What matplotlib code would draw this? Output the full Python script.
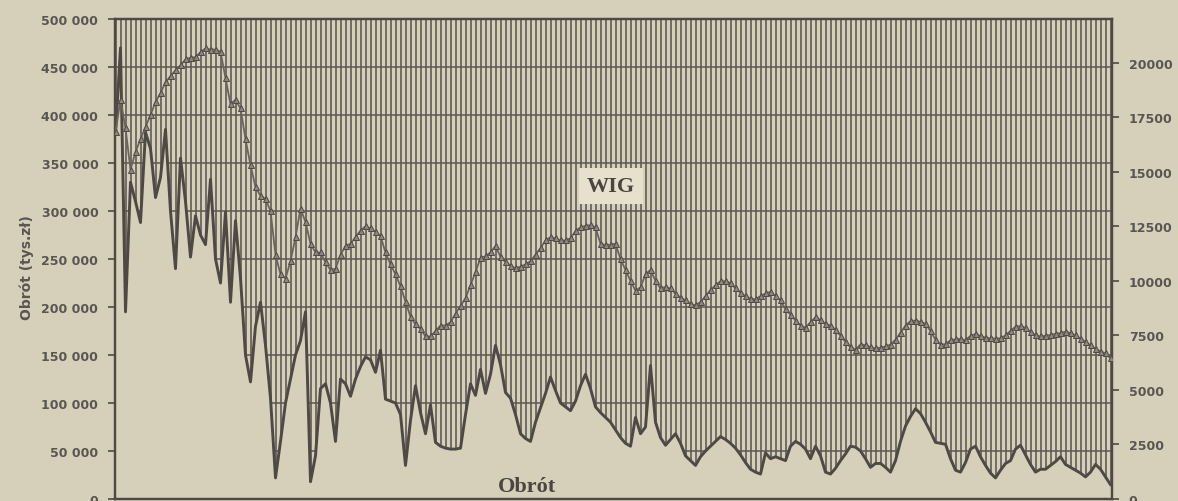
import matplotlib
matplotlib.use("Agg")
import matplotlib.pyplot as plt
import numpy as np

# Turnover (Obrót), thousands of zł, one value per session
obrot_tys = [
    380, 470, 195, 330, 310, 288, 382, 365, 314, 335,
    385, 300, 240, 355, 310, 252, 295, 275, 265, 333,
    250, 225, 299, 205, 290, 230, 150, 122, 180, 205,
    160, 105, 22, 60, 100, 125, 150, 165, 195, 18,
    45, 115, 120, 100, 60, 125, 120, 107, 125, 138,
    148, 145, 132, 155, 104, 102, 100, 88, 35, 82,
    118, 90, 68, 98, 59, 55, 53, 52, 52, 53,
    88, 120, 108, 135, 110, 130, 160, 140, 111, 105,
    88, 68, 63, 60, 80, 95, 110, 127, 113, 100,
    96, 92, 102, 118, 130, 115, 96, 90, 85, 80,
    72, 64, 58, 55, 85, 68, 75, 139, 80, 64,
    56, 62, 68, 58, 45, 40, 35, 44, 50, 55,
    60, 65, 62, 58, 53, 46, 38, 31, 28, 26,
    48, 42, 44, 42, 40, 55, 60, 57, 52, 42,
    55, 45, 28, 26, 32, 40, 47, 55, 54, 50,
    42, 33, 37, 37, 33, 28, 40, 60, 76, 86,
    94, 89, 80, 70, 59, 58, 57, 42, 30, 28,
    38, 52, 55, 44, 35, 27, 22, 30, 37, 40,
    52, 56, 46, 36, 28, 31, 31, 35, 39, 44,
    36, 33, 30, 27, 23, 28, 36, 31, 23, 15,
]

# WIG index, one value per session
wig = [
    16800, 18300, 17000, 15100, 15900, 16500, 17050, 17600, 18200, 18600,
    19100, 19380, 19650, 19880, 20150, 20230, 20250, 20480, 20650, 20600,
    20600, 20500, 19300, 18100, 18300, 17900, 16500, 15300, 14300, 13900,
    13750, 13200, 11200, 10300, 10100, 10900, 12000, 13300, 12700, 11700,
    11300, 11300, 10850, 10500, 10550, 11200, 11600, 11700, 12000, 12300,
    12500, 12400, 12250, 12050, 11300, 10750, 10300, 9750, 9050, 8350,
    8000, 7800, 7450, 7450, 7700, 7950, 7950, 8100, 8500, 8850,
    9200, 9800, 10400, 11050, 11130, 11300, 11600, 11100, 10850, 10700,
    10570, 10650, 10750, 10900, 11200, 11500, 11850, 12000, 11950, 11850,
    11850, 11950, 12280, 12450, 12520, 12550, 12450, 11700, 11640, 11660,
    11700, 11000, 10500, 10000, 9550, 9700, 10300, 10500, 10000, 9650,
    9720, 9650, 9400, 9230, 9100, 8930, 8880, 9030, 9300, 9580,
    9800, 9980, 9980, 9900, 9650, 9450, 9300, 9180, 9150, 9300,
    9420, 9500, 9300, 9100, 8700, 8450, 8180, 7950, 7850, 8100,
    8330, 8200, 8020, 7950, 7750, 7480, 7200, 6950, 6850, 7080,
    7050, 6960, 6900, 6940, 6990, 7080, 7300, 7620, 7950, 8150,
    8180, 8120, 8030, 7700, 7300, 7080, 7100, 7270, 7320, 7340,
    7270, 7480, 7560, 7470, 7400, 7360, 7355, 7360, 7500, 7700,
    7900, 7920, 7850, 7650, 7520, 7450, 7480, 7520, 7570, 7610,
    7670, 7600, 7500, 7350, 7200, 7050, 6880, 6760, 6680, 6450,
]

obrot_ticks = [0, 50000, 100000, 150000, 200000, 250000, 300000, 350000, 400000, 450000, 500000]
obrot_labels = ["0", "50 000", "100 000", "150 000", "200 000", "250 000",
                "300 000", "350 000", "400 000", "450 000", "500 000"]
wig_ticks = [0, 2500, 5000, 7500, 10000, 12500, 15000, 17500, 20000]
wig_labels = ["0", "2500", "5000", "7500", "10000", "12500", "15000", "17500", "20000"]

BG = "#d6cfba"
DARK = "#4e4944"
GRID = "#5c5751"
TXT = "#5a5550"

W, H = 1178, 502
fig = plt.figure(figsize=(W / 100, H / 100), dpi=100)
fig.patch.set_facecolor(BG)

ax = fig.add_axes([115 / W, 2 / H, 997 / W, 480 / H])
ax.set_facecolor(BG)

x = np.arange(len(obrot_tys))
obrot = np.array(obrot_tys) * 1000.0

ax.set_xlim(-0.1, len(x) - 1 + 0.3)
ax.set_ylim(0, 500000)

# vertical grid at every session, horizontal grid every 50 000
ax.set_xticks(x)
ax.tick_params(axis="x", length=0, labelbottom=False)
ax.set_axisbelow(True)
ax.xaxis.grid(True, color=GRID, lw=1.15)
ax.yaxis.grid(True, color=GRID, lw=1.1)

ax.fill_between(x, 0, obrot, color=BG, lw=0, zorder=1)
ax.plot(x, obrot, color=DARK, lw=2.1, zorder=3, solid_joinstyle="round")

ax.set_yticks(obrot_ticks)
ax.set_yticklabels(obrot_labels)
ax.tick_params(axis="y", direction="out", length=5, width=1.2, color=DARK,
               pad=7, labelsize=9, labelcolor=TXT)
for lab in ax.get_yticklabels():
    lab.set_fontweight("bold")

for s in ax.spines.values():
    s.set_color(DARK)
    s.set_linewidth(1.6)

ax2 = ax.twinx()
ax2.set_ylim(0, 22000)
ax2.plot(x, wig, color="#6a645d", lw=1.3, marker="^", markersize=4.2,
         markerfacecolor="#8d877d", markeredgecolor=DARK, markeredgewidth=0.7,
         zorder=4)
ax2.set_yticks(wig_ticks)
ax2.set_yticklabels(wig_labels)
ax2.tick_params(axis="y", direction="out", length=5, width=1.2, color=DARK,
                pad=7, labelsize=9, labelcolor=TXT)
for lab in ax2.get_yticklabels():
    lab.set_fontweight("bold")
for s in ax2.spines.values():
    s.set_color(DARK)
    s.set_linewidth(1.6)

ax.text(0.4975, 0.652, "WIG", transform=ax.transAxes, ha="center", va="center",
        fontsize=16, fontweight="bold", family="Liberation Serif", color="#4a4540",
        zorder=5, bbox=dict(boxstyle="square,pad=0.35", facecolor="#e6e0cd", edgecolor="none"))
ax.text(0.413, 0.027, "Obrót", transform=ax.transAxes, ha="center", va="center",
        fontsize=16, fontweight="bold", family="Liberation Serif", color="#4a4540", zorder=5)

fig.text(27 / W, 1 - 268 / H, "Obrót (tys.zł)", rotation=90, ha="center", va="center",
         fontsize=10, fontweight="bold", color=TXT)

fig.savefig("out.png", dpi=100, facecolor=BG)
